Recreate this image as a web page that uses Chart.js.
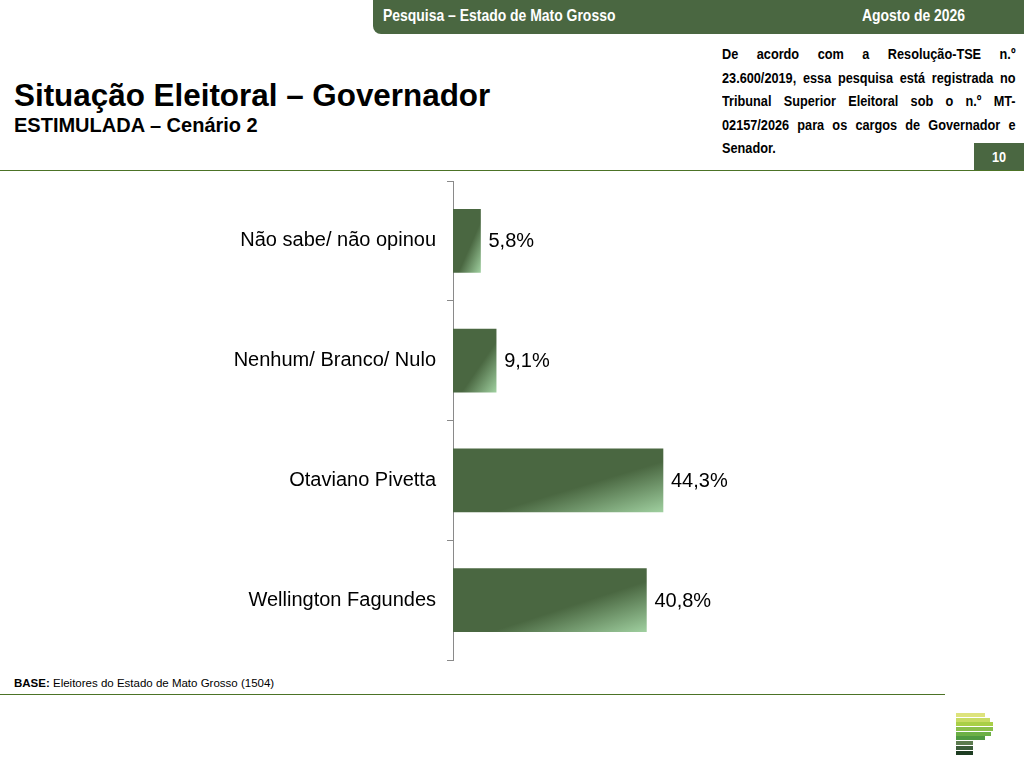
<!DOCTYPE html>
<html>
<head>
<meta charset="utf-8">
<script src="https://cdn.jsdelivr.net/npm/chart.js@4"></script>
<style>
  body { margin: 0; width: 1024px; height: 767px; background: #fff; position: relative; overflow: hidden;
         font-family: "Liberation Sans", Arial, sans-serif; }
  .narrow { font-weight: bold; transform: scaleX(0.82); transform-origin: 0 0; white-space: nowrap; }
  #topbar { position: absolute; left: 373px; top: 0; width: 651px; height: 34px; background: #4a6741;
            border-bottom-left-radius: 8px; color: #fff; font-size: 17px; }
  #topbar span { position: absolute; top: 6px; }
  #title { position: absolute; left: 14px; top: 78px; font-size: 31.4px; font-weight: bold; color: #000; }
  #subtitle { position: absolute; left: 14px; top: 114px; font-size: 20px; font-weight: bold; color: #000; }
  #note { position: absolute; left: 722px; top: 42px; width: 358px; font-size: 15.5px; color: #000; line-height: 23.5px; }
  #note div { text-align: justify; text-align-last: justify; }
  #note div.last { text-align-last: left; }
  #page { position: absolute; left: 974px; top: 143px; width: 50px; height: 27px; background: #4a6741; }
  #page span { position: absolute; left: 18px; top: 0; color: #fff; font-size: 15.5px; line-height: 27px; }
  .rule { position: absolute; left: 0; height: 1px; background: #4c7326; }
  #base { position: absolute; left: 14px; top: 677px; font-size: 11.5px; color: #000; }
  #chartbox { position: absolute; left: 0; top: 170px; }
  #logo { position: absolute; left: 956px; top: 713px; }
  #logo div { height: 4px; margin-bottom: 0.7px; }
</style>
</head>
<body>
<div id="topbar">
  <span class="narrow" style="left:10px">Pesquisa – Estado de Mato Grosso</span>
  <span class="narrow" style="left:489px">Agosto de 2026</span>
</div>
<div id="title">Situação Eleitoral – Governador</div>
<div id="subtitle">ESTIMULADA – Cenário 2</div>
<div id="note" class="narrow">
  <div>De acordo com a Resolução-TSE n.º</div>
  <div>23.600/2019, essa pesquisa está registrada no</div>
  <div>Tribunal Superior Eleitoral sob o n.º MT-</div>
  <div>02157/2026 para os cargos de Governador e</div>
  <div class="last">Senador.</div>
</div>
<div id="page"><span class="narrow">10</span></div>
<div class="rule" style="top:170px; width:1024px"></div>
<div id="chartbox"><canvas id="chart" width="1000" height="500"></canvas></div>
<div id="base"><b>BASE:</b> Eleitores do Estado de Mato Grosso (1504)</div>
<div class="rule" style="top:694px; width:945px"></div>
<div id="logo">
  <div style="width:29px;background:#dde37c"></div>
  <div style="width:34px;background:#c8dc64"></div>
  <div style="width:37px;background:#a9cf47"></div>
  <div style="width:37px;background:#8bc04b"></div>
  <div style="width:35px;background:#6cb045"></div>
  <div style="width:29px;background:#4f9a40"></div>
  <div style="width:17px;background:#5c7b4f"></div>
  <div style="width:17px;background:#3b5c3a"></div>
  <div style="width:17px;background:#1e3d22"></div>
</div>
<script>
// Chart data
const categories = ["Não sabe/ não opinou", "Nenhum/ Branco/ Nulo", "Otaviano Pivetta", "Wellington Fagundes"];
const values = [5.8, 9.1, 44.3, 40.8];

const colors = {
  bar: "#4a6741",
  barLight: "#9fcf9f",
  axis: "#8a8a8a",
  text: "#000",
};
const barThickness = 63;

// Diagonal gradient per bar, light in the bottom-right corner
const barFill = (context) => {
  const chart = context.chart;
  const xScale = chart.scales.x;
  const yScale = chart.scales.y;
  if (context.type !== "data" || !xScale || !yScale) return colors.bar;
  const x0 = xScale.getPixelForValue(0);
  const w = xScale.getPixelForValue(context.raw) - x0;
  const h = barThickness;
  const y0 = yScale.getPixelForValue(context.dataIndex) - h / 2;
  const k = (2 * h * w) / (h * h + w * w);
  if (![x0, y0, w, k].every(Number.isFinite) || w <= 0) return colors.bar;
  const grad = chart.ctx.createLinearGradient(x0, y0, x0 + k * h, y0 + k * w);
  grad.addColorStop(0, colors.bar);
  grad.addColorStop(0.6, colors.bar);
  grad.addColorStop(1, colors.barLight);
  return grad;
};

// Value labels at the end of each bar
const valueLabels = {
  id: "valueLabels",
  afterDatasetsDraw(chart) {
    const ctx = chart.ctx;
    const meta = chart.getDatasetMeta(0);
    ctx.save();
    ctx.font = "20px 'Liberation Sans', Arial, sans-serif";
    ctx.fillStyle = colors.text;
    ctx.textBaseline = "middle";
    ctx.textAlign = "left";
    meta.data.forEach((bar, i) => {
      const label = values[i].toFixed(1).replace(".", ",") + "%";
      ctx.fillText(label, bar.x + 8, bar.y + 1);
    });
    ctx.restore();
  },
};

new Chart(document.getElementById("chart"), {
  type: "bar",
  data: {
    labels: categories,
    datasets: [{
      data: values,
      backgroundColor: barFill,
      barThickness: barThickness,
      borderWidth: 0,
    }],
  },
  options: {
    indexAxis: "y",
    responsive: false,
    animation: false,
    layout: { padding: { top: 11, bottom: 10, right: 73, left: 0 } },
    plugins: {
      legend: { display: false },
      tooltip: { enabled: false },
    },
    scales: {
      x: {
        display: false,
        min: 0,
        max: 100,
      },
      y: {
        afterFit: (scale) => {
          scale.width = 453;
          scale.paddingTop = 0;
          scale.paddingBottom = 0;
        },
        ticks: {
          color: colors.text,
          padding: 11,
          font: { family: "'Liberation Sans', Arial, sans-serif", size: 20 },
        },
        grid: {
          drawOnChartArea: false,
          color: colors.axis,
          tickLength: 6,
          offset: true,
        },
        border: { color: colors.axis, width: 1 },
      },
    },
  },
  plugins: [valueLabels],
});
</script>
</body>
</html>
